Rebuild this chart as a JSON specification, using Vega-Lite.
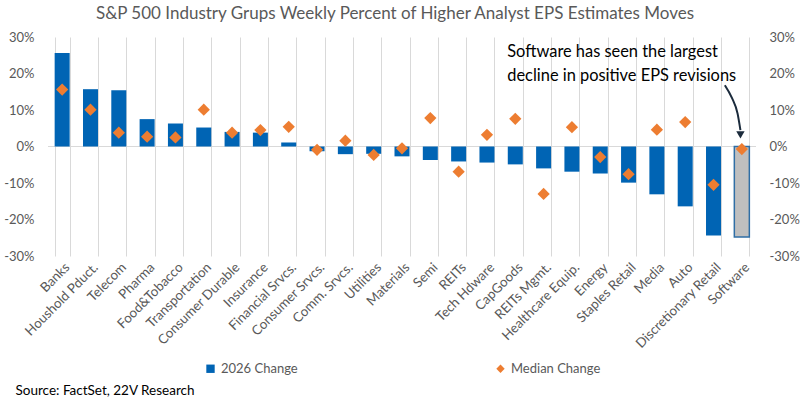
{
  "$schema": "https://vega.github.io/schema/vega-lite/v6.json",
  "width": 708,
  "height": 219,
  "autosize": {"type": "none"},
  "padding": {"left": 48, "top": 37, "right": 46, "bottom": 143},
  "config": {"font": "Lato", "view": {"stroke": null}, "axisY": {"labelOverlap": false}, "axis": {"labelOverlap": false}},
  "title": {"text": "S&P 500 Industry Grups Weekly Percent of Higher Analyst EPS Estimates Moves", "fontSize": 17, "fontWeight": "normal", "color": "#595959", "offset": 8, "anchor": "middle", "dx": -7},
  "datasets": {
    "main": [
      {"cat": "Banks", "bar": 25.6, "med": 15.6},
      {"cat": "Houshold Pduct.", "bar": 15.7, "med": 10.1},
      {"cat": "Telecom", "bar": 15.4, "med": 3.8},
      {"cat": "Pharma", "bar": 7.5, "med": 2.7},
      {"cat": "Food&Tobacco", "bar": 6.3, "med": 2.5},
      {"cat": "Transportation", "bar": 5.2, "med": 10.1},
      {"cat": "Consumer Durable", "bar": 4.0, "med": 3.8},
      {"cat": "Insurance", "bar": 3.8, "med": 4.5},
      {"cat": "Financial Srvcs.", "bar": 1.1, "med": 5.4},
      {"cat": "Consumer Srvcs.", "bar": -1.3, "med": -0.9},
      {"cat": "Comm. Srvcs.", "bar": -2.1, "med": 1.6},
      {"cat": "Utilities", "bar": -2.0, "med": -2.3},
      {"cat": "Materials", "bar": -2.7, "med": -0.5},
      {"cat": "Semi", "bar": -3.7, "med": 7.8},
      {"cat": "REITs", "bar": -4.1, "med": -6.9},
      {"cat": "Tech Hdware", "bar": -4.4, "med": 3.2},
      {"cat": "CapGoods", "bar": -4.9, "med": 7.6},
      {"cat": "REITs Mgmt.", "bar": -6.0, "med": -13.0},
      {"cat": "Healthcare Equip.", "bar": -6.9, "med": 5.3},
      {"cat": "Energy", "bar": -7.4, "med": -2.9},
      {"cat": "Staples Retail", "bar": -9.9, "med": -7.6},
      {"cat": "Media", "bar": -13.1, "med": 4.6},
      {"cat": "Auto", "bar": -16.4, "med": 6.7},
      {"cat": "Discretionary Retail", "bar": -24.4, "med": -10.5},
      {"cat": "Software", "bar": -24.8, "med": -0.7}
    ],
    "note": [
      {"cat": "CapGoods", "v": 25.8, "t": "Software has seen the largest"},
      {"cat": "CapGoods", "v": 19.2, "t": "decline in positive EPS revisions"}
    ],
    "arrow": [
      {"part": "line", "xi": 23.9, "v": 16.8},
      {"part": "line", "xi": 24.15, "v": 13.3},
      {"part": "line", "xi": 24.35, "v": 9.0},
      {"part": "line", "xi": 24.45, "v": 4.5},
      {"part": "head", "xi": 24.45, "v": 3.2}
    ]
  },
  "layer": [
    {
      "data": {"name": "main"},
      "encoding": {
        "x": {
          "field": "cat", "type": "nominal", "sort": null,
          "scale": {"paddingInner": 0.47, "paddingOuter": 0.235,
            "domain": ["Banks", "Houshold Pduct.", "Telecom", "Pharma", "Food&Tobacco", "Transportation", "Consumer Durable", "Insurance", "Financial Srvcs.", "Consumer Srvcs.", "Comm. Srvcs.", "Utilities", "Materials", "Semi", "REITs", "Tech Hdware", "CapGoods", "REITs Mgmt.", "Healthcare Equip.", "Energy", "Staples Retail", "Media", "Auto", "Discretionary Retail", "Software"]},
          "axis": {
            "title": "Source: FactSet, 22V Research", "titleX": -33, "titleY": 134, "titleAlign": "left", "titleBaseline": "middle", "titleFontSize": 13.5, "titleFontWeight": "normal", "titleColor": "#000000",
            "labelAngle": -45, "labelFontSize": 13.3, "labelColor": "#595959", "labelPadding": 4, "labelOverlap": false, "labelBound": false,
            "domain": false, "ticks": false, "grid": true, "gridColor": "#d9d9d9", "gridWidth": 1, "tickBand": "extent"
          }
        },
        "y": {"type": "quantitative", "scale": {"domain": [-30, 30], "nice": false},
          "axis": {"title": null, "values": [-30, -20, -10, 0, 10, 20, 30], "labelExpr": "datum.value + '%'", "labelOverlap": false, "domain": false, "ticks": false, "grid": false, "labelFontSize": 13, "labelColor": "#595959", "labelPadding": 14}}
      },
      "layer": [
        {
          "data": {"values": [{"z": 0}]},
          "mark": {"type": "rule", "color": "#d9d9d9", "strokeWidth": 1},
          "encoding": {"x": null, "y": {"field": "z", "type": "quantitative"}}
        },
        {
          "mark": {"type": "bar"},
          "encoding": {
            "y": {"field": "bar", "type": "quantitative"},
            "color": {"datum": "2026 Change",
              "scale": {"domain": ["2026 Change", "Median Change"], "range": ["#0064B4", "#ED7D31"]},
              "legend": {"orient": "none", "legendX": 156, "legendY": 325, "direction": "horizontal", "title": null, "labelFontSize": 13, "labelColor": "#595959", "symbolSize": 70, "symbolStrokeWidth": 0, "columnPadding": 196, "labelOffset": 4,
                "encode": {"symbols": {"update": {"shape": {"signal": "datum.value === 'Median Change' ? 'diamond' : 'square'"}}}}}}
          }
        },
        {
          "transform": [{"filter": "datum.cat === 'Software'"}],
          "mark": {"type": "bar", "fill": "#BFBFBF", "stroke": "#2F6EA5", "strokeWidth": 1.5},
          "encoding": {"y": {"field": "bar", "type": "quantitative"}}
        },
        {
          "mark": {"type": "point", "shape": "diamond", "filled": true, "size": 150, "opacity": 1},
          "encoding": {
            "y": {"field": "med", "type": "quantitative"},
            "color": {"datum": "Median Change"}
          }
        },
        {
          "data": {"name": "note"},
          "mark": {"type": "text", "align": "left", "baseline": "middle", "dx": -8, "fontSize": 16.4, "color": "#000000"},
          "encoding": {"y": {"field": "v", "type": "quantitative"}, "text": {"field": "t"}}
        }
      ]
    },
    {
      "data": {"name": "arrow"},
      "encoding": {
        "x": {"field": "xi", "type": "quantitative", "scale": {"domain": [0, 25], "nice": false, "zero": false}, "axis": null},
        "y": {"field": "v", "type": "quantitative", "scale": {"domain": [-30, 30], "nice": false},
          "axis": {"orient": "right", "title": null, "values": [-30, -20, -10, 0, 10, 20, 30], "labelExpr": "datum.value + '%'", "labelOverlap": false, "domain": false, "ticks": false, "grid": false, "labelFontSize": 13, "labelColor": "#595959", "labelPadding": 13}}
      },
      "layer": [
        {
          "transform": [{"filter": "datum.part === 'line'"}],
          "mark": {"type": "line", "color": "#1B2B3C", "strokeWidth": 2, "interpolate": "monotone"}
        },
        {
          "transform": [{"filter": "datum.part === 'head'"}],
          "mark": {"type": "point", "shape": "triangle-down", "filled": true, "color": "#1B2B3C", "size": 70, "opacity": 1}
        }
      ]
    }
  ],
  "resolve": {"scale": {"x": "independent", "y": "independent"}}
}
